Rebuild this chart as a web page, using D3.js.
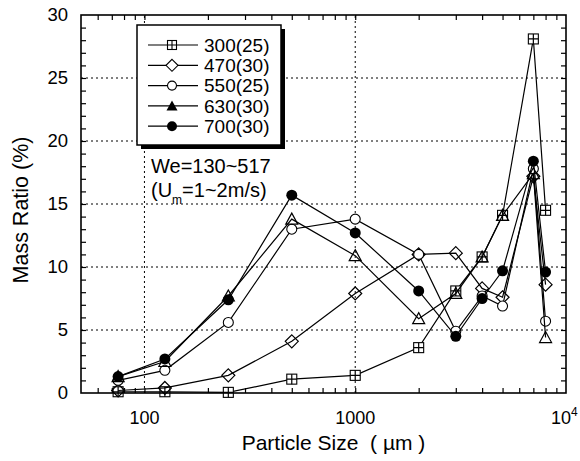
<!DOCTYPE html>
<html>
<head>
<meta charset="utf-8">
<title>Mass Ratio vs Particle Size</title>
<script src="https://d3js.org/d3.v7.min.js"></script>
<style>
    html, body { margin: 0; padding: 0; background: #fff; }
    svg { display: block; font-family: "Liberation Sans", Arial, sans-serif; }
    .grid line { stroke: #000; stroke-width: 1; stroke-dasharray: 2,3; }
    .series path { fill: none; stroke: #000; stroke-width: 1.2; }
</style>
</head>
<body>
<div id="chart"></div>
<script>
// ---- data ----
const sizes = [75, 125, 250, 500, 1000, 2000, 3000, 4000, 5000, 7000, 8000];
const s300 = [0.1, 0.1, 0.05, 1.1, 1.4, 3.6, 8.1, 10.8, 14.1, 28.1, 14.5];
const s470 = [0.2, 0.4, 1.4, 4.1, 7.9, 11.0, 11.1, 8.3, 7.6, 17.2, 8.6];
const s550 = [1.0, 1.8, 5.6, 13.0, 13.8, 11.0, 4.9, 7.7, 6.9, 17.8, 5.7];
const s630 = [1.3, 2.5, 7.7, 13.8, 10.9, 5.9, 7.9, 10.8, 14.1, 17.4, 4.4];
const s700 = [1.3, 2.7, 7.4, 15.7, 12.7, 8.1, 4.5, 7.5, 9.7, 18.4, 9.6];
const seriesNames = ["300(25)", "470(30)", "550(25)", "630(30)", "700(30)"];
const seriesMarks = ["boxcross", "diamond", "circleOpen", "triangle", "circleFilled"];
const yTicks = [0, 5, 10, 15, 20, 25, 30];
const xTicks = [100, 1000, 10000];

const allSeries = [s300, s470, s550, s630, s700].map((v, i) => ({
    name: seriesNames[i],
    mark: seriesMarks[i],
    values: v.map((y, j) => ({x: sizes[j], y: y}))
}));

// ---- layout ----
const W = 580, H = 461;
const margin = {top: 15, right: 14, bottom: 68, left: 81};

const svg = d3.select("#chart").append("svg")
    .attr("width", W).attr("height", H);

const x = d3.scaleLog().domain([50, 10000]).range([margin.left, W - margin.right]);
const y = d3.scaleLinear().domain([0, 30]).range([H - margin.bottom, margin.top]);

// grid (dotted)
const grid = svg.append("g").attr("class", "grid");
grid.selectAll(".gy").data([5, 10, 15, 20, 25]).enter().append("line")
    .attr("x1", x.range()[0]).attr("x2", x.range()[1])
    .attr("y1", d => y(d)).attr("y2", d => y(d));
grid.selectAll(".gx").data([100, 1000]).enter().append("line")
    .attr("x1", d => x(d)).attr("x2", d => x(d))
    .attr("y1", y(0)).attr("y2", y(30));

// inward ticks on all four sides
const minorX = [];
[10, 100, 1000].forEach(b => { for (let k = 1; k <= 9; k++) { const v = b * k; if (v > 50 && v < 10000) minorX.push(v); } });
const minorY = d3.range(1, 30);

svg.append("g").attr("transform", `translate(0,${y(0)})`)
    .call(d3.axisBottom(x).tickValues(minorX).tickSizeInner(-5).tickSizeOuter(0).tickFormat(""))
    .call(g => g.select(".domain").remove());
svg.append("g").attr("transform", `translate(0,${y(30)})`)
    .call(d3.axisTop(x).tickValues(minorX).tickSizeInner(-5).tickSizeOuter(0).tickFormat(""))
    .call(g => g.select(".domain").remove());
svg.append("g").attr("transform", `translate(${x(50)},0)`)
    .call(d3.axisLeft(y).tickValues(minorY).tickSizeInner(-5).tickSizeOuter(0).tickFormat(""))
    .call(g => g.select(".domain").remove());
svg.append("g").attr("transform", `translate(${x(10000)},0)`)
    .call(d3.axisRight(y).tickValues(minorY).tickSizeInner(-5).tickSizeOuter(0).tickFormat(""))
    .call(g => g.select(".domain").remove());
svg.selectAll(".tick line").attr("stroke", "#000").attr("stroke-width", 1.2);

// tick labels
svg.append("g").selectAll("text").data(yTicks).enter().append("text")
    .attr("x", 68).attr("y", d => y(d)).attr("dy", "0.35em")
    .attr("text-anchor", "end").attr("font-size", 18.5)
    .text(d => d);

const xl = svg.append("g").selectAll("text").data(xTicks).enter().append("text")
    .attr("x", d => x(d)).attr("y", y(0) + 31)
    .attr("text-anchor", "middle").attr("font-size", 18);
xl.filter(d => d < 10000).text(d => d);
xl.filter(d => d === 10000).each(function() {
    const t = d3.select(this).attr("text-anchor", "start").attr("x", x(10000) - 15);
    t.append("tspan").text("10");
    t.append("tspan").attr("font-size", 12).attr("dy", -8).text("4");
});

// axis titles
svg.append("text")
    .attr("transform", `translate(28,210) rotate(-90)`)
    .attr("text-anchor", "middle").attr("font-size", 21.5)
    .text("Mass Ratio (%)");
svg.append("text")
    .attr("x", (x(50) + x(10000)) / 2 + 10).attr("y", 450)
    .attr("text-anchor", "middle").attr("font-size", 21)
    .attr("xml:space", "preserve")
    .text("Particle Size  ( \u00b5m )");

// markers
function drawMark(g, type, size) {
    const r = size / 2;
    if (type === "boxcross") {
        g.append("rect").attr("x", -r).attr("y", -r).attr("width", size).attr("height", size)
            .attr("fill", "#fff").attr("stroke", "#000").attr("stroke-width", 1.1);
        g.append("path").attr("d", `M${-r},0H${r}M0,${-r}V${r}`).attr("stroke", "#000").attr("stroke-width", 1.1);
    } else if (type === "diamond") {
        g.append("path").attr("d", `M0,${-r - 1.5}L${r + 1.5},0L0,${r + 1.5}L${-r - 1.5},0Z`)
            .attr("fill", "#fff").attr("stroke", "#000").attr("stroke-width", 1.1);
    } else if (type === "circleOpen") {
        g.append("circle").attr("r", r).attr("fill", "#fff").attr("stroke", "#000").attr("stroke-width", 1.1);
    } else if (type === "triangle") {
        g.append("path").attr("d", `M0,${-r - 1}L${r + 1},${r}L${-r - 1},${r}Z`).attr("fill", "#000");
    } else {
        g.append("circle").attr("r", r + 0.5).attr("fill", "#000");
    }
}

const line = d3.line().x(d => x(d.x)).y(d => y(d.y));

const sg = svg.selectAll(".series").data(allSeries).enter().append("g").attr("class", "series");
sg.append("path").attr("d", d => line(d.values));
sg.each(function(s) {
    d3.select(this).selectAll(".pt").data(s.values).enter().append("g")
        .attr("transform", d => `translate(${x(d.x)},${y(d.y)})`)
        .each(function() { drawMark(d3.select(this), s.mark, 10); });
});

// frame
svg.append("rect")
    .attr("x", x(50)).attr("y", y(30))
    .attr("width", x(10000) - x(50)).attr("height", y(0) - y(30))
    .attr("fill", "none").attr("stroke", "#000").attr("stroke-width", 1.6);

// legend with drop shadow
const lg = svg.append("g");
const lx = 137, ly = 25, lw = 144, lh = 120;
lg.append("rect").attr("x", lx + 4).attr("y", ly + 4).attr("width", lw).attr("height", lh).attr("fill", "#000");
lg.append("rect").attr("x", lx).attr("y", ly).attr("width", lw).attr("height", lh)
    .attr("fill", "#fff").attr("stroke", "#000").attr("stroke-width", 1.5);
allSeries.forEach((s, i) => {
    const ry = 45 + i * 20.3;
    lg.append("line").attr("x1", 148).attr("x2", 198).attr("y1", ry).attr("y2", ry)
        .attr("stroke", "#000").attr("stroke-width", 1.2);
    drawMark(lg.append("g").attr("transform", `translate(172,${ry})`), s.mark, 9);
    lg.append("text").attr("x", 204).attr("y", ry).attr("dy", "0.36em")
        .attr("font-size", 19).text(s.name);
});

// annotation
svg.append("text").attr("x", 151).attr("y", 173).attr("font-size", 20).text("We=130~517");
const ann = svg.append("text").attr("x", 151).attr("y", 197).attr("font-size", 20);
ann.append("tspan").text("(U");
ann.append("tspan").attr("font-size", 12).attr("dy", 7).text("m");
ann.append("tspan").attr("dy", -7).text("=1~2m/s)");
</script>
</body>
</html>
